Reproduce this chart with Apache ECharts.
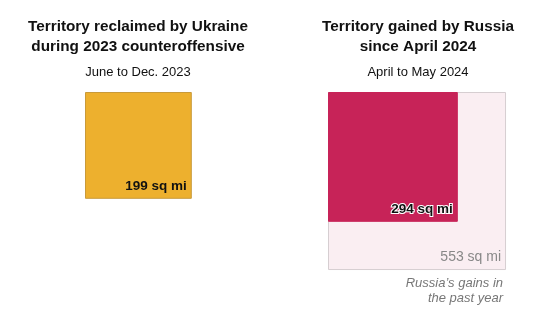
<!DOCTYPE html>
<html>
<head>
<meta charset="utf-8">
<script src="https://cdn.jsdelivr.net/npm/echarts@6/dist/echarts.min.js"></script>
<style>
html,body{margin:0;padding:0;background:#fff;}
#chart{width:559px;height:322px;}
</style>
</head>
<body>
<div id="chart"></div>
<script>
// Data
const leftCategories = ['Ukraine, June to Dec. 2023'];
const leftAreas = [199];
const leftLabels = ['199 sq mi'];
const rightCategories = ['Russia, past year', 'Russia, April to May 2024'];
const rightAreas = [553, 294];
const rightLabels = ['553 sq mi', '294 sq mi'];
const titles = ['Territory reclaimed by Ukraine\nduring 2023 counteroffensive', 'Territory gained by Russia\nsince April 2024'];
const subtitles = ['June to Dec. 2023', 'April to May 2024'];
const noteText = 'Russia\u2019s gains in\nthe past year';

const FONT = '"Liberation Sans", Arial, sans-serif';
const AXMAX = 24;
const SIDE = 181.7;

const leftStyles = [
  {fill: '#EDB02E', stroke: '#C99A3A', text: {fill: '#111', fontWeight: 'bold', fontSize: 13.5}}
];
const rightStyles = [
  {fill: '#FAEEF2', stroke: '#D6CED1', text: {fill: '#888', fontWeight: 'normal', fontSize: 14}},
  {fill: '#C72358', stroke: '#C72358', text: {fill: '#111', fontWeight: 'bold', fontSize: 13.5, stroke: '#fff', lineWidth: 2}}
];

function makeRender(styles, labels, withNote) {
  return function (params, api) {
    const i = params.dataIndex;
    const s = Math.sqrt(api.value(1));
    const p0 = api.coord([0, 0]);
    const p1 = api.coord([s, s]);
    const st = styles[i];
    const children = [{
      type: 'rect',
      shape: {x: p0[0] + 0.5, y: p0[1] + 0.5, width: p1[0] - p0[0] - 1, height: p1[1] - p0[1] - 1},
      style: {fill: st.fill, stroke: st.stroke, lineWidth: 1}
    }, {
      type: 'text',
      style: Object.assign({
        text: labels[i], x: p1[0] - 5, y: p1[1] - 6,
        textAlign: 'right', textVerticalAlign: 'bottom',
        fontFamily: FONT
      }, st.text)
    }];
    if (withNote && i === 0) {
      children.push({
        type: 'text',
        style: {
          text: noteText, x: p1[0] - 3, y: p1[1] + 6,
          textAlign: 'right', textVerticalAlign: 'top',
          fontFamily: FONT, fontSize: 13, fontStyle: 'italic', fill: '#777', lineHeight: 15
        }
      });
    }
    return {type: 'group', children: children};
  };
}

const chart = echarts.init(document.getElementById('chart'), null, {renderer: 'canvas'});
const axisCommon = {type: 'value', min: 0, max: AXMAX, show: false};
chart.setOption({
  animation: false,
  backgroundColor: '#fff',
  title: [
    {text: titles[0], left: 138, top: 17, padding: 0, textAlign: 'center',
     textStyle: {fontFamily: FONT, fontSize: 15.3, fontWeight: 'bold', color: '#111', lineHeight: 20},
     subtext: subtitles[0], itemGap: 9,
     subtextStyle: {fontFamily: FONT, fontSize: 13, color: '#111'}},
    {text: titles[1], left: 418, top: 17, padding: 0, textAlign: 'center',
     textStyle: {fontFamily: FONT, fontSize: 15.3, fontWeight: 'bold', color: '#111', lineHeight: 20},
     subtext: subtitles[1], itemGap: 9,
     subtextStyle: {fontFamily: FONT, fontSize: 13, color: '#111'}}
  ],
  grid: [
    {left: 85, top: 92, width: SIDE, height: SIDE},
    {left: 328, top: 92, width: SIDE, height: SIDE}
  ],
  xAxis: [Object.assign({gridIndex: 0}, axisCommon), Object.assign({gridIndex: 1}, axisCommon)],
  yAxis: [Object.assign({gridIndex: 0, inverse: true}, axisCommon), Object.assign({gridIndex: 1, inverse: true}, axisCommon)],
  series: [
    {type: 'custom', xAxisIndex: 0, yAxisIndex: 0,
     data: leftAreas.map((v, i) => [leftCategories[i], v]),
     encode: {x: 1, y: 1},
     renderItem: makeRender(leftStyles, leftLabels, false)},
    {type: 'custom', xAxisIndex: 1, yAxisIndex: 1,
     data: rightAreas.map((v, i) => [rightCategories[i], v]),
     encode: {x: 1, y: 1},
     renderItem: makeRender(rightStyles, rightLabels, true)}
  ]
});
</script>
</body>
</html>
